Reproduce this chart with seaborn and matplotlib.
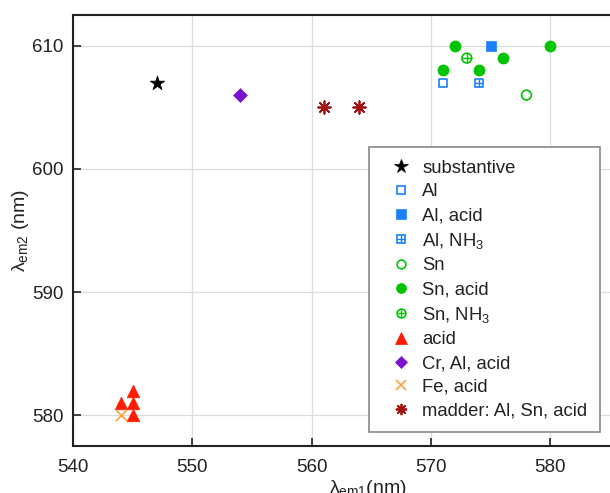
import numpy as np
import pandas as pd
import matplotlib
matplotlib.use("Agg")
import matplotlib.pyplot as plt
from matplotlib.lines import Line2D
from matplotlib.legend_handler import HandlerTuple
import seaborn as sns

# Emission maxima (nm) for each dye / mordant group
subst_x, subst_y = [547], [607]
al_x, al_y = [571], [607]
al_acid_x, al_acid_y = [575], [610]
al_nh3_x, al_nh3_y = [574], [607]
sn_x, sn_y = [578], [606]
sn_acid_x, sn_acid_y = [572, 571, 574, 576, 580], [610, 608, 608, 609, 610]
sn_nh3_x, sn_nh3_y = [573], [609]
acid_x, acid_y = [545, 544, 545, 545], [582, 581, 581, 580]
cr_x, cr_y = [554], [606]
fe_x, fe_y = [544], [580]
madder_x, madder_y = [561, 564], [605, 605]

x_ticks = [540, 550, 560, 570, 580]
y_ticks = [580, 590, 600, 610]

sns.set_style("white")
plt.rcParams["font.family"] = ["Liberation Sans", "DejaVu Sans"]
plt.rcParams["mathtext.fontset"] = "custom"
plt.rcParams["mathtext.rm"] = "Liberation Sans"
plt.rcParams["mathtext.it"] = "Liberation Sans:italic"

BLUE = "#1a7fff"
GREEN = "#00c400"
RED = "#ff1a00"
PURPLE = "#7a10d0"
ORANGE = "#ffa040"
DARKRED = "#a01010"

groups = [
    ("substantive", subst_x, subst_y),
    ("Al", al_x, al_y),
    ("Al, acid", al_acid_x, al_acid_y),
    ("Al, NH$_3$", al_nh3_x, al_nh3_y),
    ("Sn", sn_x, sn_y),
    ("Sn, acid", sn_acid_x, sn_acid_y),
    ("Sn, NH$_3$", sn_nh3_x, sn_nh3_y),
    ("acid", acid_x, acid_y),
    ("Cr, Al, acid", cr_x, cr_y),
    ("Fe, acid", fe_x, fe_y),
    ("madder: Al, Sn, acid", madder_x, madder_y),
]
df = pd.concat(
    [pd.DataFrame({"x": gx, "y": gy, "group": name}) for name, gx, gy in groups],
    ignore_index=True,
)

asterisk = (8, 2, 0)
# each style: list of layers (marker, markersize pt, face, edge, linewidth)
styles = {
    "substantive": [("*", 11, "black", "black", 0.5)],
    "Al": [("s", 6, "none", BLUE, 1.2)],
    "Al, acid": [("s", 7.5, BLUE, BLUE, 0.5)],
    "Al, NH$_3$": [("s", 6, "none", BLUE, 1.2), ("+", 6, BLUE, BLUE, 1.0)],
    "Sn": [("o", 7, "none", GREEN, 1.2)],
    "Sn, acid": [("o", 8, GREEN, GREEN, 0.5)],
    "Sn, NH$_3$": [("o", 7, "none", GREEN, 1.2), ("+", 7, GREEN, GREEN, 1.0)],
    "acid": [("^", 9, RED, RED, 0.5)],
    "Cr, Al, acid": [("D", 7, PURPLE, PURPLE, 0.5)],
    "Fe, acid": [("x", 8, ORANGE, ORANGE, 1.2)],
    "madder: Al, Sn, acid": [(asterisk, 9, DARKRED, DARKRED, 1.3)],
}

fig = plt.figure(figsize=(6.1, 4.93), dpi=100)
ax = fig.add_axes([73 / 610, 47 / 493, 537 / 610, 431 / 493])

handles, labels = [], []
for name, _, _ in groups:
    sub = df[df["group"] == name]
    layer_handles = []
    for marker, ms, face, edge, lw in styles[name]:
        sns.scatterplot(
            data=sub, x="x", y="y", ax=ax, marker=marker, s=ms ** 2,
            color=edge, facecolor=face, edgecolor=edge, linewidth=lw,
            legend=False, zorder=3,
        )
        layer_handles.append(
            Line2D([], [], linestyle="none", marker=marker, markersize=ms * 0.9,
                   markerfacecolor=face, markeredgecolor=edge, markeredgewidth=lw)
        )
    handles.append(tuple(layer_handles) if len(layer_handles) > 1 else layer_handles[0])
    labels.append(name)

ax.set_xlim(540, 585)
ax.set_ylim(577.5, 612.5)
ax.set_xticks(x_ticks)
ax.set_yticks(y_ticks)
ax.grid(True, color="#dcdcdc", linewidth=0.9)
ax.set_axisbelow(True)

for side in ["left", "top", "bottom"]:
    ax.spines[side].set_color("#222222")
    ax.spines[side].set_linewidth(1.5)
ax.spines["right"].set_visible(False)
ax.tick_params(axis="both", direction="in", length=6, width=1.2,
               labelsize=13.5, colors="#222222",
               bottom=True, left=True, top=False, right=False)
ax.tick_params(axis="x", pad=9)
ax.tick_params(axis="y", pad=7)

ax.set_xlabel(r"λ$_{\mathrm{em1}}$(nm)", fontsize=14, color="#222222")
ax.set_ylabel(r"λ$_{\mathrm{em2}}$ (nm)", fontsize=14, color="#222222")
ax.xaxis.set_label_coords(0.55, -0.075)
ax.yaxis.set_label_coords(-0.078, 0.5)

leg = ax.legend(
    handles, labels, loc="upper left", bbox_to_anchor=(0.552, 0.694),
    fontsize=13.3, frameon=True, fancybox=False, framealpha=1,
    edgecolor="#888888", handlelength=2.0, handletextpad=0.15,
    labelspacing=0.36, borderpad=0.7, borderaxespad=0,
    handler_map={tuple: HandlerTuple(ndivide=1)},
)
leg.get_frame().set_linewidth(1.2)
for t in leg.get_texts():
    t.set_color("#222222")

fig.savefig("out.png", dpi=100)
